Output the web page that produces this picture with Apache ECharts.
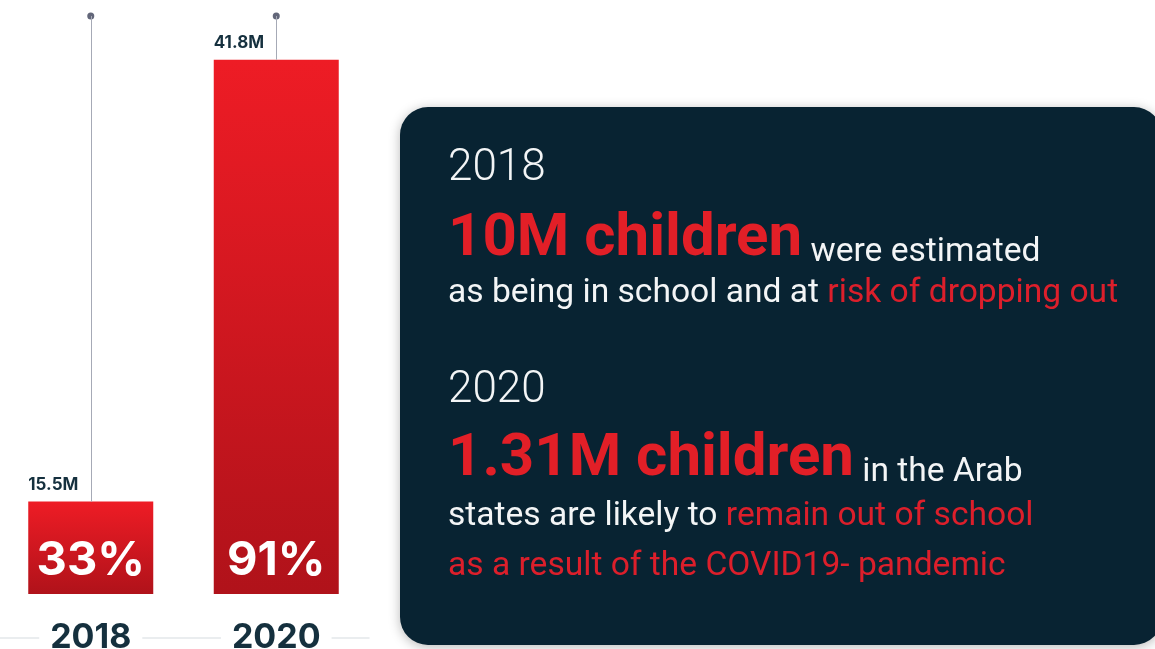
<!DOCTYPE html>
<html>
<head>
<meta charset="utf-8">
<script src="https://cdn.jsdelivr.net/npm/echarts@6/dist/echarts.min.js"></script>
<style>
  html, body { margin: 0; padding: 0; background: #ffffff; }
  #chart { width: 1155px; height: 649px; }
</style>
</head>
<body>
<div id="chart"></div>
<script>
// Children counts (millions) and shares for each year
const years = ['2018', '2020'];
const childrenMillions = [15.5, 41.8];
const sharePercent = [33, 91];

// Value range of the bar axis
const axisMin = 10;
const axisMax = 44.4;

const barRed = new echarts.graphic.LinearGradient(0, 0, 0, 1, [
  { offset: 0, color: '#ee1c25' },
  { offset: 1, color: '#b0121a' }
]);

const navy = '#15303e';
const panelRed = '#e21f27';
const softRed = '#dc1f2b';
const white = '#f3f5f6';

const bigText = { fontFamily: 'Roboto', fontWeight: 'bold', fontSize: 60, lineHeight: 50, fill: panelRed, verticalAlign: 'bottom' };
const smallText = { fontFamily: 'Roboto', fontSize: 33.6, lineHeight: 34, fill: white, verticalAlign: 'bottom' };

// a stem from the top of each bar up to the top of the value range
const stems = years.map((y, i) => [
  { xAxis: i, yAxis: childrenMillions[i] },
  { xAxis: i, yAxis: axisMax }
]);

const chart = echarts.init(document.getElementById('chart'), null, { renderer: 'canvas' });

chart.setOption({
  animation: false,
  grid: { left: -2, right: 786, top: 16, bottom: 55, containLabel: false, outerBoundsMode: 'none' },
  xAxis: {
    type: 'category',
    data: years,
    offset: 44,
    axisLine: { show: true, lineStyle: { color: '#e4e7ea', width: 1.5 } },
    axisTick: { show: false },
    axisLabel: {
      margin: 0,
      verticalAlign: 'middle',
      fontFamily: 'Inter',
      fontWeight: 'bold',
      fontSize: 34,
      color: navy,
      backgroundColor: '#ffffff',
      padding: [0, 11]
    }
  },
  yAxis: {
    type: 'value',
    min: axisMin,
    max: axisMax,
    show: false,
    splitLine: { show: false }
  },
  series: [
    {
      type: 'scatter',
      data: years.map((y) => [y, axisMax]),
      symbol: 'circle',
      symbolSize: 7,
      itemStyle: { color: '#3b4057' },
      z: 2
    },
    {
      type: 'bar',
      data: childrenMillions,
      barWidth: 125,
      barGap: '-100%',
      itemStyle: { color: barRed },
      label: {
        show: true,
        position: [0, -8],
        align: 'left',
        verticalAlign: 'bottom',
        fontFamily: 'Inter',
        fontWeight: 'bold',
        fontSize: 17,
        color: navy,
        formatter: (p) => p.value.toFixed(1) + 'M'
      },
      markLine: {
        silent: true,
        symbol: ['none', 'none'],
        label: { show: false },
        lineStyle: { color: '#a6aab6', width: 1, type: 'solid' },
        data: stems
      },
      z: 3
    },
    {
      type: 'bar',
      data: childrenMillions,
      barWidth: 125,
      barGap: '-100%',
      itemStyle: { color: 'rgba(0,0,0,0)' },
      label: {
        show: true,
        position: 'insideBottom',
        distance: 10,
        fontFamily: 'Inter',
        fontWeight: 'bold',
        fontSize: 47,
        color: '#ffffff',
        formatter: (p) => sharePercent[p.dataIndex] + '%'
      },
      z: 4
    }
  ],
  graphic: [
    {
      type: 'rect',
      shape: { x: 400, y: 107, width: 762, height: 538, r: 28 },
      style: {
        fill: '#082332',
        shadowBlur: 12,
        shadowColor: 'rgba(0,0,0,0.28)',
        shadowOffsetY: 2
      },
      z: 0
    },
    {
      type: 'text', left: 448, top: 147,
      style: { text: '2018', fontFamily: 'Roboto', fontWeight: 300, fontSize: 44, fill: white }
    },
    {
      type: 'text', x: 448, y: 270,
      style: {
        text: '{b|10M children}{s| were estimated}',
        verticalAlign: 'bottom',
        rich: { b: bigText, s: smallText }
      }
    },
    {
      type: 'text', x: 448, y: 294,
      style: {
        text: 'as being in school and at {r|risk of dropping out}',
        verticalAlign: 'middle',
        fontFamily: 'Roboto', fontSize: 33.6, fill: white,
        rich: { r: { fontFamily: 'Roboto', fontSize: 33.6, fill: softRed } }
      }
    },
    {
      type: 'text', left: 448, top: 369,
      style: { text: '2020', fontFamily: 'Roboto', fontWeight: 300, fontSize: 44, fill: white }
    },
    {
      type: 'text', x: 448, y: 490,
      style: {
        text: '{b|1.31M children}{s| in the Arab}',
        verticalAlign: 'bottom',
        rich: { b: bigText, s: smallText }
      }
    },
    {
      type: 'text', x: 448, y: 517,
      style: {
        text: 'states are likely to {r|remain out of school}',
        verticalAlign: 'middle',
        fontFamily: 'Roboto', fontSize: 33.6, fill: white,
        rich: { r: { fontFamily: 'Roboto', fontSize: 33.6, fill: softRed } }
      }
    },
    {
      type: 'text', x: 448, y: 567,
      style: {
        text: 'as a result of the COVID19- pandemic',
        verticalAlign: 'middle',
        fontFamily: 'Roboto', fontSize: 33.6, fill: softRed
      }
    }
  ]
});
</script>
</body>
</html>
